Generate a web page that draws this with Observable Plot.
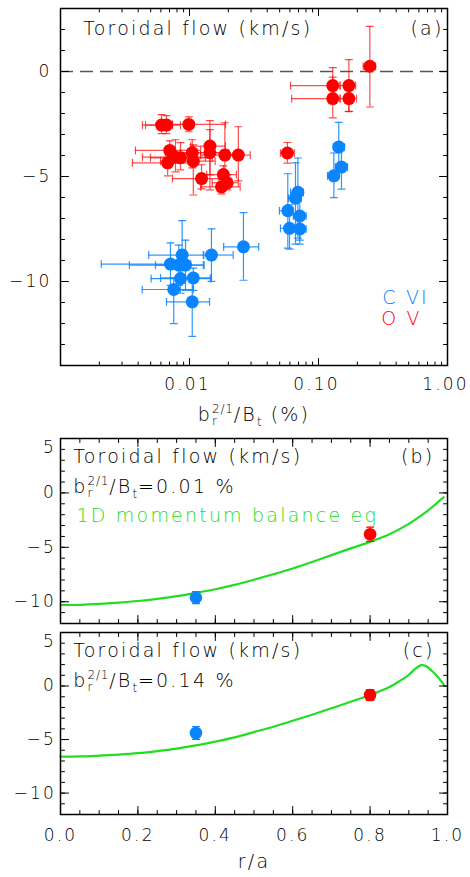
<!DOCTYPE html>
<html><head><meta charset="utf-8">
<script src="https://cdn.jsdelivr.net/npm/d3@7"></script>
<script src="https://cdn.jsdelivr.net/npm/@observablehq/plot@0.6"></script>
<style>
body{margin:0;background:#fff;}
svg{display:block;}
svg text{font-weight:200;}
</style></head><body><div id="chart"></div>
<script>
// ---------- data: panel (a) ----------
const oV_x   = [0.00607,0.00663,0.00988,0.00703,0.00677,0.00779,0.00851,0.0105,0.0107,0.0144,0.0144,0.0188,0.0239,0.0124,0.0183,0.0177,0.0196,0.0574,0.129,0.172,0.129,0.172,0.250];
const oV_y   = [-2.55,-2.55,-2.52,-3.76,-4.35,-4.08,-4.11,-3.87,-4.27,-3.55,-3.87,-3.98,-3.98,-5.10,-4.91,-5.49,-5.30,-3.88,-0.67,-0.67,-1.29,-1.29,0.25];
const oV_xlo = [0.00432,0.00456,0.00738,0.00381,0.00361,0.00432,0.00498,0.00651,0.00596,0.0102,0.00851,0.0122,0.0180,0.00738,0.0136,0.0122,0.0150,0.0507,0.0607,0.147,0.0620,0.147,0.222];
const oV_xhi = [0.00738,0.00851,0.0190,0.0122,0.0102,0.0133,0.0150,0.0180,0.0158,0.0190,0.0201,0.0247,0.0296,0.0201,0.0231,0.0247,0.0239,0.0650,0.147,0.194,0.147,0.197,0.277];
const oV_ylo = [-2.96,-2.96,-2.87,-4.44,-4.97,-4.78,-4.68,-4.59,-5.88,-4.92,-5.64,-5.16,-5.21,-5.59,-5.45,-5.83,-5.64,-4.36,-1.34,-1.90,-2.21,-1.91,-1.69];
const oV_yhi = [-2.05,-2.10,-2.16,-3.30,-3.73,-3.25,-3.39,-3.25,-3.49,-2.34,-2.77,-2.44,-2.63,-4.44,-4.49,-5.16,-4.92,-3.38,0.18,0.57,-0.27,-0.62,2.15];

const cVI_x   = [0.00877,0.0148,0.00712,0.00826,0.00931,0.00851,0.0107,0.00755,0.0105,0.0262,0.1436,0.1507,0.1315,0.0692,0.0663,0.0578,0.0716,0.0596,0.0716];
const cVI_y   = [-8.74,-8.74,-9.17,-9.22,-9.22,-9.86,-9.83,-10.38,-10.97,-8.35,-3.60,-4.55,-4.97,-5.75,-6.03,-6.63,-6.88,-7.47,-7.50];
const cVI_xlo = [0.00483,0.0128,0.00207,0.00342,0.00545,0.00504,0.00596,0.00430,0.00663,0.0184,0.1305,0.135,0.1174,0.0607,0.0585,0.0498,0.0638,0.0507,0.0638];
const cVI_xhi = [0.0129,0.0218,0.0102,0.0130,0.0128,0.0145,0.0147,0.0107,0.0143,0.0344,0.1588,0.168,0.1436,0.0764,0.0736,0.0638,0.0802,0.0673,0.0802];
const cVI_ylo = [-10.0,-9.99,-10.18,-10.18,-10.42,-10.56,-10.42,-12.01,-12.61,-9.94,-4.78,-5.60,-6.01,-7.93,-8.22,-8.41,-8.22,-8.46,-8.03];
const cVI_yhi = [-7.10,-7.49,-8.16,-8.27,-8.03,-9.22,-9.36,-9.84,-10.03,-6.72,-2.42,-3.49,-3.88,-4.12,-4.35,-4.87,-5.64,-6.35,-6.83];

const xTicksA = [0.001, 0.01, 0.1, 1];
const xLabelsA = ["", "0.01", "0.10", "1.00"];
const yTicksA = [0, -5, -10];
const yLabelsA = ["0", "−5", "−10"];

// ---------- data: panels (b) and (c) ----------
const rB = [0,0.05,0.1,0.15,0.2,0.25,0.3,0.35,0.4,0.45,0.5,0.55,0.6,0.65,0.7,0.75,0.8,0.85,0.9,0.925,0.95,0.97,0.99];
const flowB = [-10.3,-10.28,-10.2,-10.08,-9.93,-9.73,-9.48,-9.18,-8.85,-8.45,-7.98,-7.48,-6.95,-6.35,-5.72,-5.1,-4.5,-3.8,-2.85,-2.25,-1.6,-1.0,-0.4];
const rC = [0,0.05,0.1,0.15,0.2,0.25,0.3,0.35,0.4,0.45,0.5,0.55,0.6,0.65,0.7,0.75,0.8,0.85,0.88,0.9,0.915,0.932,0.945,0.96,0.975,0.99];
const flowC = [-6.6,-6.58,-6.5,-6.4,-6.27,-6.08,-5.85,-5.55,-5.2,-4.8,-4.3,-3.8,-3.25,-2.68,-2.08,-1.47,-0.84,-0.1,0.55,1.05,1.55,1.95,1.85,1.4,0.85,0.15];
const measR = [0.35, 0.80];
const measIon = ["C VI", "O V"];
const measB = [-9.62, -3.80];
const measBerr = [0.55, 0.65];
const measC = [-4.39, -0.84];
const measCerr = [0.6, 0.5];

const xTicksR = [0, 0.2, 0.4, 0.6, 0.8, 1.0];
const xLabelsR = ["0.0", "0.2", "0.4", "0.6", "0.8", "1.0"];
const yTicksR = [0, -5, -10];
const yLabelsR = ["0", "−5", "−10"];
const yTopTickR = [5];
const yTopLabelR = ["5"];

// ---------- style ----------
const W = 470;
const FONT = "'DejaVu Sans', sans-serif";
const BLUE = "#0a84ff", RED = "#ff0000", GREEN = "#22dd22";
const ionColor = {"C VI": BLUE, "O V": RED};

const tickShape = {draw(ctx, l) { ctx.moveTo(0, 0); ctx.lineTo(0, -l); }};
const capShape  = {draw(ctx, l) { ctx.moveTo(0, -l / 2); ctx.lineTo(0, l / 2); }};

function ticksX(vals, len) {
  const o = {x: d => d, length: len, anchor: "start", shape: tickShape, stroke: "black", strokeWidth: 1};
  return [Plot.vector(vals, {...o, frameAnchor: "bottom", rotate: 0}),
          Plot.vector(vals, {...o, frameAnchor: "top", rotate: 180})];
}
function ticksY(vals, len) {
  const o = {y: d => d, length: len, anchor: "start", shape: tickShape, stroke: "black", strokeWidth: 1};
  return [Plot.vector(vals, {...o, frameAnchor: "left", rotate: 90}),
          Plot.vector(vals, {...o, frameAnchor: "right", rotate: -90})];
}
function errBars(data, color, op) {
  const s = {stroke: color, strokeOpacity: op, strokeWidth: 1.2};
  const c = {length: 7, anchor: "start", shape: capShape, ...s};
  return [
    Plot.ruleY(data, {y: "y", x1: "xlo", x2: "xhi", ...s}),
    Plot.ruleX(data, {x: "x", y1: "ylo", y2: "yhi", ...s}),
    Plot.vector(data, {x: "xlo", y: "y", rotate: 0, ...c}),
    Plot.vector(data, {x: "xhi", y: "y", rotate: 0, ...c}),
    Plot.vector(data, {x: "x", y: "ylo", rotate: 90, ...c}),
    Plot.vector(data, {x: "x", y: "yhi", rotate: 90, ...c})
  ];
}
function yErrBars(data, color) {
  const s = {stroke: color, strokeWidth: 1.3};
  const c = {length: 7, anchor: "start", shape: capShape, rotate: 90, ...s};
  return [
    Plot.ruleX(data, {x: "x", y1: "ylo", y2: "yhi", ...s}),
    Plot.vector(data, {x: "x", y: "ylo", ...c}),
    Plot.vector(data, {x: "x", y: "yhi", ...c})
  ];
}
function label(str, o) {
  return Plot.text([str], {text: d => d, lineAnchor: "bottom", fontSize: 19, fill: "black", ...o});
}

// ---------- tables ----------
const red = oV_x.map((x, i) => ({x, y: oV_y[i], xlo: oV_xlo[i], xhi: oV_xhi[i], ylo: oV_ylo[i], yhi: oV_yhi[i]}));
const blue = cVI_x.map((x, i) => ({x, y: cVI_y[i], xlo: cVI_xlo[i], xhi: cVI_xhi[i], ylo: cVI_ylo[i], yhi: cVI_yhi[i]}));
const profB = rB.map((r, i) => ({r, v: flowB[i]}));
const profC = rC.map((r, i) => ({r, v: flowC[i]}));
const mB = measR.map((x, i) => ({x, y: measB[i], ylo: measB[i] - measBerr[i], yhi: measB[i] + measBerr[i], ion: measIon[i]}));
const mC = measR.map((x, i) => ({x, y: measC[i], ylo: measC[i] - measCerr[i], yhi: measC[i] + measCerr[i], ion: measIon[i]}));

const xMinorA = [];
for (const dec of [0.001, 0.01, 0.1]) for (let k = 2; k <= 9; k++) xMinorA.push(k * dec);
const yMinorA = d3.range(-14, 4, 1);
const yMinorR = d3.range(-12, 6, 1);
const xMinorR = d3.range(0, 1.0001, 0.05);

const baseStyle = {fontFamily: FONT, letterSpacing: "2.2px", background: "white", overflow: "visible"};

// ---------- panel (a) ----------
const pA = Plot.plot({
  width: W, height: 430, marginTop: 8, marginBottom: 65, marginLeft: 60, marginRight: 23,
  style: baseStyle,
  x: {type: "log", domain: [0.001, 1], axis: null},
  y: {domain: [-14, 3], axis: null},
  marks: [
    Plot.ruleY([0], {stroke: "#555", strokeWidth: 1.3, strokeDasharray: "13,7"}),
    ...errBars(blue, BLUE, 0.85),
    Plot.dot(blue, {x: "x", y: "y", r: 6.5, fill: BLUE}),
    ...errBars(red, RED, 0.7),
    Plot.dot(red, {x: "x", y: "y", r: 6.5, fill: RED}),
    Plot.frame({stroke: "black", strokeWidth: 1.5}),
    ...ticksX(xMinorA, 3.5), ...ticksX(xTicksA, 7),
    ...ticksY(yMinorA, 4), ...ticksY(yTicksA, 8),
    Plot.text(xTicksA, {x: d => d, text: (d, i) => xLabelsA[i], frameAnchor: "bottom", dy: 24.5, dx: -2, fontSize: 17}),
    Plot.text(yTicksA, {y: d => d, text: (d, i) => yLabelsA[i], frameAnchor: "left", dx: -9, textAnchor: "end", fontSize: 17}),
    label("b_r^{2/1}/B_t (%)", {frameAnchor: "bottom", dy: 55.7, textAnchor: "middle"}),
    label("Toroidal flow (km/s)", {frameAnchor: "top-left", dx: 22.7, dy: 26, textAnchor: "start"}),
    label("(a)", {frameAnchor: "top-right", dx: -4, dy: 26, textAnchor: "end"}),
    label(measIon[0], {frameAnchor: "top-left", dx: 321.7, dy: 295, textAnchor: "start", fill: ionColor[measIon[0]]}),
    label(measIon[1], {frameAnchor: "top-left", dx: 320.7, dy: 316, textAnchor: "start", fill: ionColor[measIon[1]]})
  ]
});

// ---------- panels (b), (c) ----------
function radialPanel(prof, meas, height, mt, mb, letter, bval, showX) {
  const marks = [
    Plot.line(prof, {x: "r", y: "v", stroke: GREEN, strokeWidth: 2.2, curve: "catmull-rom"}),
    ...yErrBars(meas.filter(d => d.ion === "C VI"), BLUE),
    ...yErrBars(meas.filter(d => d.ion === "O V"), RED),
    Plot.dot(meas, {x: "x", y: "y", r: 6.3, fill: d => ionColor[d.ion]}),
    Plot.frame({stroke: "black", strokeWidth: 1.5}),
    ...ticksX(xMinorR, 4), ...ticksX(xTicksR, 8),
    ...ticksY(yMinorR, 4), ...ticksY([5, ...yTicksR], 8),
    Plot.text(yTicksR, {y: d => d, text: (d, i) => yLabelsR[i], frameAnchor: "left", dx: -4.5, textAnchor: "end", fontSize: 17}),
    Plot.text(yTopTickR, {y: d => d, text: (d, i) => yTopLabelR[i], frameAnchor: "left", dx: -4.5, dy: 8.7, textAnchor: "end", fontSize: 17}),
    label("Toroidal flow (km/s)", {frameAnchor: "top-left", dx: 12.7, dy: 24, textAnchor: "start"}),
    label(letter, {frameAnchor: "top-right", dx: -13, dy: 24, textAnchor: "end"}),
    label("b_r^{2/1}/B_t=" + bval + " %", {frameAnchor: "top-left", dx: 12.7, dy: 54, textAnchor: "start"})
  ];
  if (letter === "(b)") marks.push(label("1D momentum balance eq", {frameAnchor: "top-left", dx: 16, dy: 83.5, textAnchor: "start", fill: GREEN}));
  if (showX) {
    marks.push(Plot.text(xTicksR, {x: d => d, text: (d, i) => xLabelsR[i], frameAnchor: "bottom", dy: 26, dx: 0, fontSize: 17}));
    marks.push(label("r/a", {frameAnchor: "bottom", dy: 53, textAnchor: "middle"}));
  }
  return Plot.plot({
    width: W, height, marginTop: mt, marginBottom: mb, marginLeft: 60, marginRight: 23,
    style: baseStyle,
    x: {domain: [0, 1], axis: null},
    y: {domain: [-12, 5], axis: null},
    marks
  });
}
const pB = radialPanel(profB, mB, 195, 8, 2, "(b)", "0.01", false);
const pC = radialPanel(profC, mC, 252, 7, 63, "(c)", "0.14", true);

const root = document.getElementById("chart");
root.append(pA, pB, pC);

// ---------- rich text (sub/superscripts) ----------
function richify(svg) {
  d3.select(svg).selectAll("text").each(function () {
    const t = this.textContent;
    const head = "b_r^{2/1}/B_t";
    if (!t.startsWith(head)) return;
    const rest = t.slice(head.length);
    const sel = d3.select(this);
    sel.text(null);
    const sfs = 12;
    sel.append("tspan").text("b");
    const sub = sel.append("tspan").attr("font-size", sfs).attr("dy", 4).style("letter-spacing", "0.8px").text("r");
    const w = sub.node().getComputedTextLength();
    sel.append("tspan").attr("font-size", sfs).attr("dx", -w).attr("dy", -12).style("letter-spacing", "0.8px").text("2/1");
    sel.append("tspan").attr("dy", 8).text("/B");
    sel.append("tspan").attr("font-size", sfs).attr("dy", 5).style("letter-spacing", "0.8px").text("t");
    sel.append("tspan").attr("dy", -5).text(rest);
  });
}
[pA, pB, pC].forEach(richify);
</script>
</body></html>
